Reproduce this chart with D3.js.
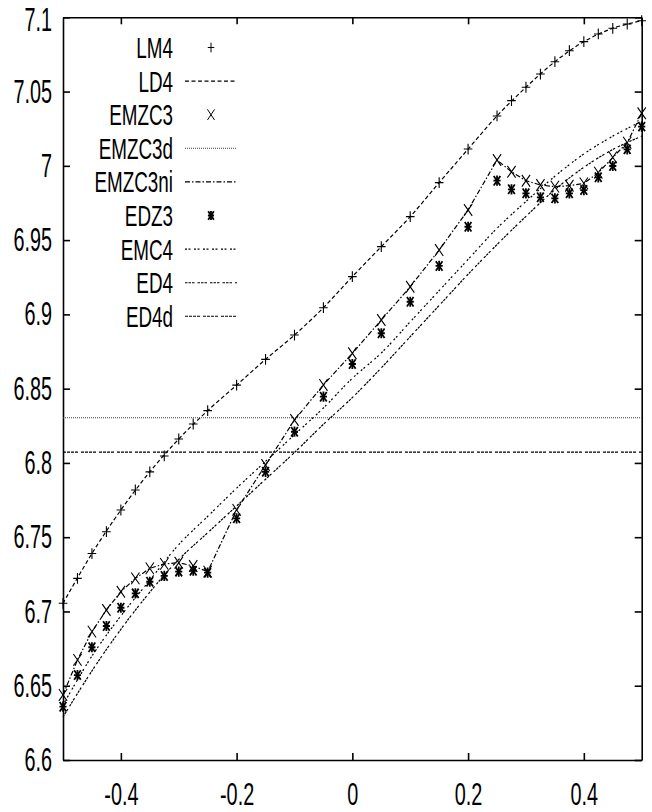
<!DOCTYPE html>
<html>
<head>
<meta charset="utf-8">
<script src="https://cdn.jsdelivr.net/npm/d3@7/dist/d3.min.js"></script>
<style>
body { margin: 0; background: #fff; }
svg { display: block; }
.axis path, .axis line { stroke: #000; stroke-width: 1.6; fill: none; }
.axis text { font-family: "Liberation Sans", Arial, sans-serif; font-size: 33px; fill: #000; }
.axis.x text { font-size: 31px; }
.legend text { font-family: "Liberation Sans", Arial, sans-serif; font-size: 29px; fill: #000; }
.mark { fill: none; stroke: #000; vector-effect: non-scaling-stroke; }
</style>
</head>
<body>
<script>
/* x positions of the point series */
var xPts = [-0.5, -0.475, -0.45, -0.425, -0.4, -0.375, -0.35, -0.325, -0.3, -0.275, -0.25,
            -0.2, -0.15, -0.1, -0.05, 0, 0.05, 0.1, 0.15, 0.2,
            0.25, 0.275, 0.3, 0.325, 0.35, 0.375, 0.4, 0.425, 0.45, 0.475, 0.5];

var lm4 = [6.7055, 6.7223, 6.739, 6.7537, 6.7683, 6.7818, 6.794, 6.8047, 6.8161, 6.8262, 6.8352,
           6.8524, 6.8697, 6.8861, 6.9045, 6.9254, 6.9456, 6.9658, 6.9887, 7.0113,
           7.0336, 7.0439, 7.0529, 7.0618, 7.0701, 7.0775, 7.0836, 7.0888, 7.0926, 7.0955, 7.0977];

var emzc3 = [6.6438, 6.6674, 6.6864, 6.701, 6.7133, 6.7223, 6.729, 6.732, 6.7328, 6.7306, 6.7268,
             6.7684, 6.7986, 6.8289, 6.8525, 6.8738, 6.8962, 6.9186, 6.9433, 6.9703,
             7.0039, 6.996, 6.99, 6.9871, 6.986, 6.9866, 6.9882, 6.9954, 7.0057, 7.0156, 7.0354];

var edz3 = [6.6359, 6.6572, 6.6759, 6.6902, 6.7025, 6.7122, 6.72, 6.7239, 6.7268, 6.7274, 6.7261,
            6.7627, 6.794, 6.821, 6.8446, 6.8666, 6.8873, 6.9085, 6.9326, 6.959,
            6.99, 6.9842, 6.9815, 6.9788, 6.9781, 6.9815, 6.9837, 6.9923, 6.9999, 7.0111, 7.0264];

/* x positions of the curve series */
var xCurve = [-0.5, -0.45, -0.4, -0.35, -0.3, -0.25, -0.2, -0.15, -0.1, -0.05, 0,
              0.05, 0.1, 0.15, 0.2, 0.25, 0.3, 0.35, 0.4, 0.45, 0.5];

var ld4 = [6.7055, 6.739, 6.7683, 6.794, 6.8161, 6.8352, 6.8524, 6.8697, 6.8861, 6.9045, 6.9254,
           6.9456, 6.9658, 6.9887, 7.0113, 7.0336, 7.0529, 7.0701, 7.0836, 7.0926, 7.0977];

var emc4 = [6.637, 6.670, 6.697, 6.721, 6.745, 6.764, 6.783, 6.801, 6.819, 6.837, 6.857,
            6.874, 6.895, 6.916, 6.937, 6.958, 6.976, 6.993, 7.008, 7.020, 7.030];

var ed4 = [6.629, 6.660, 6.688, 6.713, 6.735, 6.753, 6.771, 6.789, 6.807, 6.826, 6.844,
           6.864, 6.885, 6.906, 6.927, 6.947, 6.966, 6.984, 6.999, 7.011, 7.020];

/* flat levels */
var xFlat = [-0.5, 0.5];
var emzc3d = [6.8304, 6.8304];
var ed4d = [6.8073, 6.8073];

/* ticks and legend */
var xTicks = [-0.4, -0.2, 0, 0.2, 0.4];
var xTickLabels = ["-0.4", "-0.2", "0", "0.2", "0.4"];
var yTicks = [6.6, 6.65, 6.7, 6.75, 6.8, 6.85, 6.9, 6.95, 7, 7.05, 7.1];
var yTickLabels = ["6.6", "6.65", "6.7", "6.75", "6.8", "6.85", "6.9", "6.95", "7", "7.05", "7.1"];
var legendNames = ["LM4", "LD4", "EMZC3", "EMZC3d", "EMZC3ni", "EDZ3", "EMC4", "ED4", "ED4d"];

var margin = {top: 17.3, right: 10.3, bottom: 52, left: 63},
    w = 652 - margin.left - margin.right,
    h = 812 - margin.top - margin.bottom;

var squeeze = 0.6;

/* line styles / marker kinds */
var styles = {
	LM4:     {mark: "plus"},
	LD4:     {dash: "4,2.5", color: "#000"},
	EMZC3:   {mark: "times"},
	EMZC3d:  {dash: "1,1", color: "#444"},
	EMZC3ni: {dash: "5,2,1.5,2", color: "#000"},
	EDZ3:    {mark: "star"},
	EMC4:    {dash: "2,1.5,2,3.5", color: "#000"},
	ED4:     {dash: "2.5,1,2.5,1,2.5,3", color: "#000"},
	ED4d:    {dash: "3,1,3,1,3,1,3,3", color: "#000"}
};

var svg = d3.select("body")
			.append("svg")
			.attr("width", 652)
			.attr("height", 812)
			.append("g")
			.attr("transform", "translate(" + margin.left + "," + margin.top + ")");

/*Scales*/
var xScale = d3.scaleLinear().domain([-0.5, 0.5]).range([0, w]);
var yScale = d3.scaleLinear().domain([6.6, 7.1]).range([h, 0]);

/*Axes*/
var xAxis = d3.axisBottom(xScale).tickValues(xTicks)
				.tickFormat(function(d, i) { return xTickLabels[i]; })
				.tickSizeInner(-7).tickSizeOuter(0).tickPadding(23);
var yAxis = d3.axisLeft(yScale).tickValues(yTicks)
				.tickFormat(function(d, i) { return yTickLabels[i]; })
				.tickSizeInner(-7).tickSizeOuter(0).tickPadding(11);
var topAxis = d3.axisTop(xScale).tickValues(xTicks).tickFormat("")
				.tickSizeInner(-7).tickSizeOuter(0);
var rightAxis = d3.axisRight(yScale).tickValues(yTicks).tickFormat("")
				.tickSizeInner(-7).tickSizeOuter(0);

svg.append("g").attr("class", "axis x")
	.attr("transform", "translate(0," + h + ")").call(xAxis);
svg.append("g").attr("class", "axis y").call(yAxis);
svg.append("g").attr("class", "axis").call(topAxis);
svg.append("g").attr("class", "axis")
	.attr("transform", "translate(" + w + ",0)").call(rightAxis);

/* condensed tick labels */
svg.selectAll(".axis text")
	.attr("transform", "scale(" + squeeze + ",1)")
	.attr("x", function() { return +d3.select(this).attr("x") / squeeze; });
svg.selectAll(".axis.x text").attr("transform", "scale(0.64,1)");
// keep the top label inside the page
svg.selectAll(".axis.y text").filter(function(d) { return d == 7.1; }).attr("dy", "0.39em");

/*Lines*/
function drawLine(xs, ys, name, curve) {
	var line = d3.line()
				.x(function(d, i) { return xScale(xs[i]); })
				.y(function(d) { return yScale(d); })
				.curve(curve);
	svg.append("path")
		.datum(ys)
		.attr("fill", "none")
		.attr("stroke", styles[name].color)
		.attr("stroke-width", 1.2)
		.attr("stroke-dasharray", styles[name].dash)
		.attr("d", line);
}

drawLine(xCurve, ld4, "LD4", d3.curveCatmullRom);
drawLine(xFlat, emzc3d, "EMZC3d", d3.curveLinear);
drawLine(xFlat, ed4d, "ED4d", d3.curveLinear);
drawLine(xCurve, emc4, "EMC4", d3.curveCatmullRom);
drawLine(xCurve, ed4, "ED4", d3.curveCatmullRom);
drawLine(xPts, emzc3, "EMZC3ni", d3.curveLinear);

/*Markers*/
var plusPath = d3.symbol().type(d3.symbolPlus).size(40)();
var timesPath = d3.symbol().type(d3.symbolTimes).size(92)();
var starPlus = d3.symbol().type(d3.symbolPlus).size(36)();
var starTimes = d3.symbol().type(d3.symbolTimes).size(60)();

function drawMarks(g, xs, ys, kind, sx) {
	var paths = kind == "plus" ? [plusPath] : kind == "times" ? [timesPath] : [starPlus, starTimes];
	paths.forEach(function(p) {
		g.selectAll(null)
			.data(ys)
			.enter()
			.append("path")
			.attr("class", "mark")
			.attr("d", p)
			.attr("stroke-width", kind == "star" ? 1.8 : 1.1)
			.attr("transform", function(d, i) {
				return "translate(" + xScale(xs[i]) + "," + yScale(d) + ") scale(" + sx + ",1)";
			});
	});
}

drawMarks(svg, xPts, lm4, "plus", 0.8);
drawMarks(svg, xPts, emzc3, "times", 0.7);
drawMarks(svg, xPts, edz3, "star", 0.7);

/*Legend*/
var legend = d3.select("svg").append("g").attr("class", "legend");
legendNames.forEach(function(name, i) {
	var yc = 47.5 + i * 33.6;
	legend.append("text")
		.attr("transform", "translate(173," + yc + ") scale(0.65,1)")
		.attr("text-anchor", "end")
		.attr("dy", "0.36em")
		.text(name);
	var s = styles[name];
	if (s.mark) {
		var p = s.mark == "plus" ? [plusPath] : s.mark == "times" ? [timesPath] : [starPlus, starTimes];
		p.forEach(function(d) {
			legend.append("path")
				.attr("class", "mark")
				.attr("d", d)
				.attr("stroke-width", s.mark == "star" ? 1.8 : 1)
				.attr("transform", "translate(211," + yc + ") scale(0.6,0.9)");
		});
	} else {
		legend.append("line")
			.attr("x1", 185).attr("x2", 237)
			.attr("y1", yc).attr("y2", yc)
			.attr("stroke", s.color)
			.attr("stroke-width", 1.1)
			.attr("stroke-dasharray", s.dash);
	}
});
</script>
</body>
</html>
